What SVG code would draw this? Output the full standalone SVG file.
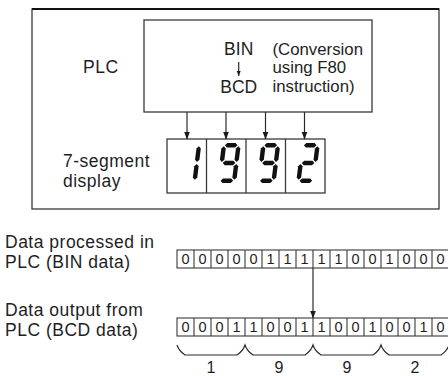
<svg xmlns="http://www.w3.org/2000/svg" width="448" height="376" viewBox="0 0 448 376">
<style>
  text { font-family: "Liberation Sans", Arial, sans-serif; fill: #1e1e1e; }
  .lbl { font-size: 17.5px; letter-spacing: 0.5px; }
  .conv { font-size: 16.8px; }
  .bit { font-size: 14.5px; text-anchor: middle; }
  .num { font-size: 16px; text-anchor: middle; }
  .box { fill: none; stroke: #3a3a3a; stroke-width: 1.3; }
  .cell { fill: #fff; stroke: #3a3a3a; stroke-width: 1.1; }
  .conn { fill: none; stroke: #2a2a2a; stroke-width: 1.2; }
  .brace { fill: none; stroke: #2a2a2a; stroke-width: 1.2; }
  .seg { fill: #111; }
</style>
<defs>
  <marker id="ah" markerUnits="userSpaceOnUse" markerWidth="8" markerHeight="9" refX="7.5" refY="3" orient="auto">
    <path d="M0,0 L8,3 L0,6 Z" fill="#1a1a1a"/>
  </marker>
  <marker id="ahs" markerUnits="userSpaceOnUse" markerWidth="6" markerHeight="6" refX="5" refY="2" orient="auto">
    <path d="M0,0 L5,2 L0,4 Z" fill="#1a1a1a"/>
  </marker>
  <polygon id="sa" points="3.2,2.2 5.4,0 13.6,0 15.8,2.2 13.6,4.4 5.4,4.4"/>
  <polygon id="sg" points="3.2,20 5.4,17.8 13.6,17.8 15.8,20 13.6,22.2 5.4,22.2"/>
  <polygon id="sd" points="3.2,37.8 5.4,35.6 13.6,35.6 15.8,37.8 13.6,40 5.4,40"/>
  <polygon id="sf" points="2.2,3.2 4.4,5.4 4.4,16.8 2.2,19 0,16.8 0,5.4"/>
  <polygon id="sb" points="16.8,3.2 19,5.4 19,16.8 16.8,19 14.6,16.8 14.6,5.4"/>
  <polygon id="se" points="2.2,21 4.4,23.2 4.4,34.6 2.2,36.8 0,34.6 0,23.2"/>
  <polygon id="sc" points="16.8,21 19,23.2 19,34.6 16.8,36.8 14.6,34.6 14.6,23.2"/>
</defs>
<rect width="448" height="376" fill="#fff"/>

<g id="outer-box">
  <rect class="box" x="32" y="9" width="407" height="200"/>
  <line x1="32" y1="9" x2="439" y2="9" stroke="#111" stroke-width="1.8"/>
</g>

<g id="plc">
  <rect class="box" x="144" y="20" width="228" height="92"/>
  <text class="lbl" x="83" y="73">PLC</text>
  <text class="lbl" x="238.7" y="55" text-anchor="middle" style="letter-spacing:0">BIN</text>
  <text class="lbl" x="238.7" y="92.5" text-anchor="middle" style="letter-spacing:0">BCD</text>
  <line class="conn" x1="238.7" y1="62" x2="238.7" y2="76" stroke-width="0.9" marker-end="url(#ahs)"/>
  <text class="conv" x="272.5" y="54.5">(Conversion</text>
  <text class="conv" x="272.5" y="73.3">using F80</text>
  <text class="conv" x="272.5" y="92.1">instruction)</text>
</g>

<g id="display">
  <text class="lbl" x="63" y="167">7-segment</text>
  <text class="lbl" x="63" y="187">display</text>
  <rect class="box" x="167" y="139" width="158" height="54"/>
  <line class="box" x1="206.5" y1="139" x2="206.5" y2="193"/>
  <line class="box" x1="246" y1="139" x2="246" y2="193"/>
  <line class="box" x1="285.5" y1="139" x2="285.5" y2="193"/>
  <g class="seg" transform="translate(182.5,143) skewX(-7)">
    <use href="#sb"/><use href="#sc"/>
  </g>
  <g class="seg" transform="translate(222,143) skewX(-7)">
    <use href="#sa"/><use href="#sb"/><use href="#sc"/><use href="#sd"/><use href="#sf"/><use href="#sg"/>
  </g>
  <g class="seg" transform="translate(261.5,143) skewX(-7)">
    <use href="#sa"/><use href="#sb"/><use href="#sc"/><use href="#sd"/><use href="#sf"/><use href="#sg"/>
  </g>
  <g class="seg" transform="translate(301,143) skewX(-7)">
    <use href="#sa"/><use href="#sb"/><use href="#sg"/><use href="#se"/><use href="#sd"/>
  </g>
</g>

<g id="bin-row">
  <text class="lbl" x="5" y="248">Data processed in</text>
  <text class="lbl" x="5" y="268">PLC (BIN data)</text>
  <rect class="cell" x="177" y="250" width="272" height="18"/>
  <path class="cell" d="M194,250V268M211,250V268M228,250V268M245,250V268M262,250V268M279,250V268M296,250V268M313,250V268M330,250V268M347,250V268M364,250V268M381,250V268M398,250V268M415,250V268M432,250V268"/>
  <g class="bit">
    <text x="185.5" y="264">0</text><text x="202.5" y="264">0</text><text x="219.5" y="264">0</text><text x="236.5" y="264">0</text>
    <text x="253.5" y="264">0</text><text x="270.5" y="264">1</text><text x="287.5" y="264">1</text><text x="304.5" y="264">1</text>
    <text x="321.5" y="264">1</text><text x="338.5" y="264">1</text><text x="355.5" y="264">0</text><text x="372.5" y="264">0</text>
    <text x="389.5" y="264">1</text><text x="406.5" y="264">0</text><text x="423.5" y="264">0</text><text x="440.5" y="264">0</text>
  </g>
</g>

<g id="bcd-row">
  <text class="lbl" x="5" y="316">Data output from</text>
  <text class="lbl" x="5" y="336">PLC (BCD data)</text>
  <rect class="cell" x="177" y="318" width="272" height="18"/>
  <path class="cell" d="M194,318V336M211,318V336M228,318V336M245,318V336M262,318V336M279,318V336M296,318V336M313,318V336M330,318V336M347,318V336M364,318V336M381,318V336M398,318V336M415,318V336M432,318V336"/>
  <g class="bit">
    <text x="185.5" y="332">0</text><text x="202.5" y="332">0</text><text x="219.5" y="332">0</text><text x="236.5" y="332">1</text>
    <text x="253.5" y="332">1</text><text x="270.5" y="332">0</text><text x="287.5" y="332">0</text><text x="304.5" y="332">1</text>
    <text x="321.5" y="332">1</text><text x="338.5" y="332">0</text><text x="355.5" y="332">0</text><text x="372.5" y="332">1</text>
    <text x="389.5" y="332">0</text><text x="406.5" y="332">0</text><text x="423.5" y="332">1</text><text x="440.5" y="332">0</text>
  </g>
  <path class="brace" d="M177,345 Q179,351 185,355 L237,355 Q243,351 245,345 Q247,351 253,355 L305,355 Q311,351 313,345 Q315,351 321,355 L373,355 Q379,351 381,345 Q383,351 389,355 L441,355 Q447,351 449,345"/>
  <text class="num" x="211" y="373">1</text>
  <text class="num" x="279" y="373">9</text>
  <text class="num" x="347" y="373">9</text>
  <text class="num" x="415" y="373">2</text>
</g>

<g id="connectors">
  <line class="conn" x1="187" y1="112" x2="187" y2="139" marker-end="url(#ah)"/>
  <line class="conn" x1="226" y1="112" x2="226" y2="139" marker-end="url(#ah)"/>
  <line class="conn" x1="265.5" y1="112" x2="265.5" y2="139" marker-end="url(#ah)"/>
  <line class="conn" x1="304.5" y1="112" x2="304.5" y2="139" marker-end="url(#ah)"/>
  <line class="conn" x1="313" y1="268" x2="313" y2="318" marker-end="url(#ah)"/>
</g>
</svg>
